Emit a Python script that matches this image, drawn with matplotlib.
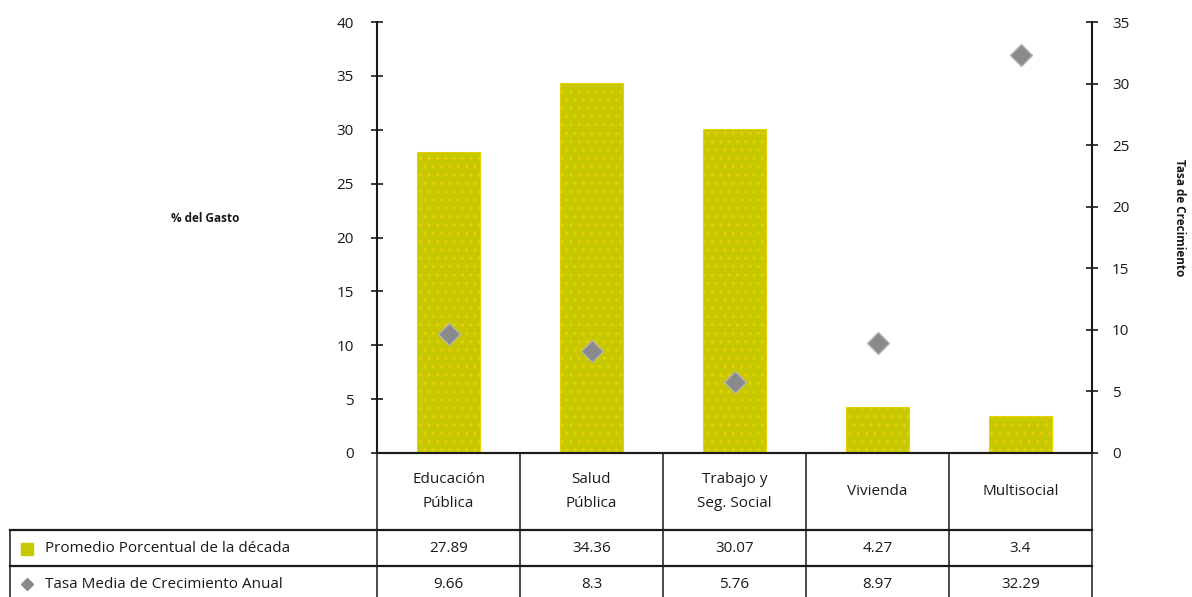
import matplotlib
matplotlib.use("Agg")
import matplotlib.pyplot as plt
from matplotlib.transforms import blended_transform_factory
from matplotlib.lines import Line2D

plt.rcParams['font.family'] = ['Open Sans', 'DejaVu Sans']

categories = ["Educación\nPública", "Salud\nPública", "Trabajo y\nSeg. Social", "Vivienda", "Multisocial"]
promedio = [27.89, 34.36, 30.07, 4.27, 3.4]
tasa = [9.66, 8.3, 5.76, 8.97, 32.29]
promedio_labels = ["27.89", "34.36", "30.07", "4.27", "3.4"]
tasa_labels = ["9.66", "8.3", "5.76", "8.97", "32.29"]
row_labels = ["Promedio Porcentual de la década", "Tasa Media de Crecimiento Anual"]
left_ticks = [0, 5, 10, 15, 20, 25, 30, 35, 40]
right_ticks = [0, 5, 10, 15, 20, 25, 30, 35]

W, H = 1192, 597
fig = plt.figure(figsize=(W / 100, H / 100), dpi=100)

# overlay axes in pixel coordinates for the table
tab = fig.add_axes([0, 0, 1, 1])
tab.set_xlim(0, W)
tab.set_ylim(H, 0)
tab.axis('off')

ax = fig.add_axes([377 / W, (H - 453) / H, (1092 - 377) / W, (453 - 22) / H])
ax2 = ax.twinx()

bar_color = '#C8C800'
x = list(range(len(categories)))
ax.bar(x, promedio, width=0.44, color=bar_color, edgecolor='#E6D200', hatch='..', linewidth=0.8, zorder=2)
ax.set_xlim(-0.5, len(categories) - 0.5)
ax.set_ylim(0, 40)
ax.set_yticks(left_ticks)
ax.set_xticks([])
ax2.set_ylim(0, 35)
ax2.set_yticks(right_ticks)
ax2.plot(x, tasa, linestyle='none', marker='D', markersize=11.5, color='#8A8A8A',
         markeredgecolor='#B4B4B4', markeredgewidth=1, zorder=5)
ax2.set_zorder(ax.get_zorder() + 1)

for a in (ax, ax2):
    a.spines['top'].set_visible(False)
    a.patch.set_visible(False)
    a.tick_params(direction='inout', length=9, width=1.2, labelsize=11, colors='#1a1a1a')
    for s in a.spines.values():
        s.set_color('#1a1a1a')
        s.set_linewidth(1.5)
ax.spines['right'].set_visible(False)
ax2.spines['left'].set_visible(False)
ax2.spines['bottom'].set_visible(False)
ax.tick_params(axis='y', pad=12)
ax2.tick_params(axis='y', pad=10)

fig.text(205 / W, 1 - 218 / H, "% del Gasto", ha='center', va='center', fontsize=8.5,
         fontweight='bold', color='#1a1a1a')
fig.text(1180 / W, 1 - 218 / H, "Tasa de Crecimiento", ha='center', va='center', fontsize=8.5,
         fontweight='bold', rotation=-90, color='#1a1a1a')

# table
tr = blended_transform_factory(ax.transData, tab.transData)
n = len(categories)
y_head_top, y_head_bot, y_r1_bot, y_r2_bot = 453, 530, 566, 602
lc = '#1a1a1a'
for i in range(n + 1):
    tab.add_line(Line2D([i - 0.5, i - 0.5], [y_head_top, y_r2_bot], transform=tr, color=lc, lw=1.1))
tab.add_line(Line2D([-0.5, n - 0.5], [y_head_top, y_head_top], transform=tr, color=lc, lw=1.5))
for yy in (y_head_bot, y_r1_bot):
    tab.add_line(Line2D([10, 1092], [yy, yy], color=lc, lw=1.6))
tab.add_line(Line2D([10, 10], [y_head_bot, y_r2_bot], color=lc, lw=1.1))

r1c = (y_head_bot + y_r1_bot) / 2 + 1
r2c = 584
for i, c in enumerate(categories):
    tab.text(i, (y_head_top + y_head_bot) / 2, c, transform=tr, ha='center', va='center',
             fontsize=11, linespacing=1.85, color='#1a1a1a')
    tab.text(i, r1c, promedio_labels[i], transform=tr, ha='center',
             va='center', fontsize=11, color='#1a1a1a')
    tab.text(i, r2c, tasa_labels[i], transform=tr, ha='center',
             va='center', fontsize=11, color='#1a1a1a')

tab.plot([27], [r1c], marker='s', markersize=8, color=bar_color, linestyle='none')
tab.plot([27], [r2c], marker='D', markersize=6, color='#8A8A8A', linestyle='none')
tab.text(45, r1c, row_labels[0], ha='left', va='center', fontsize=11, color='#1a1a1a')
tab.text(45, r2c, row_labels[1], ha='left', va='center', fontsize=11, color='#1a1a1a')

fig.savefig('out.png', dpi=100)
